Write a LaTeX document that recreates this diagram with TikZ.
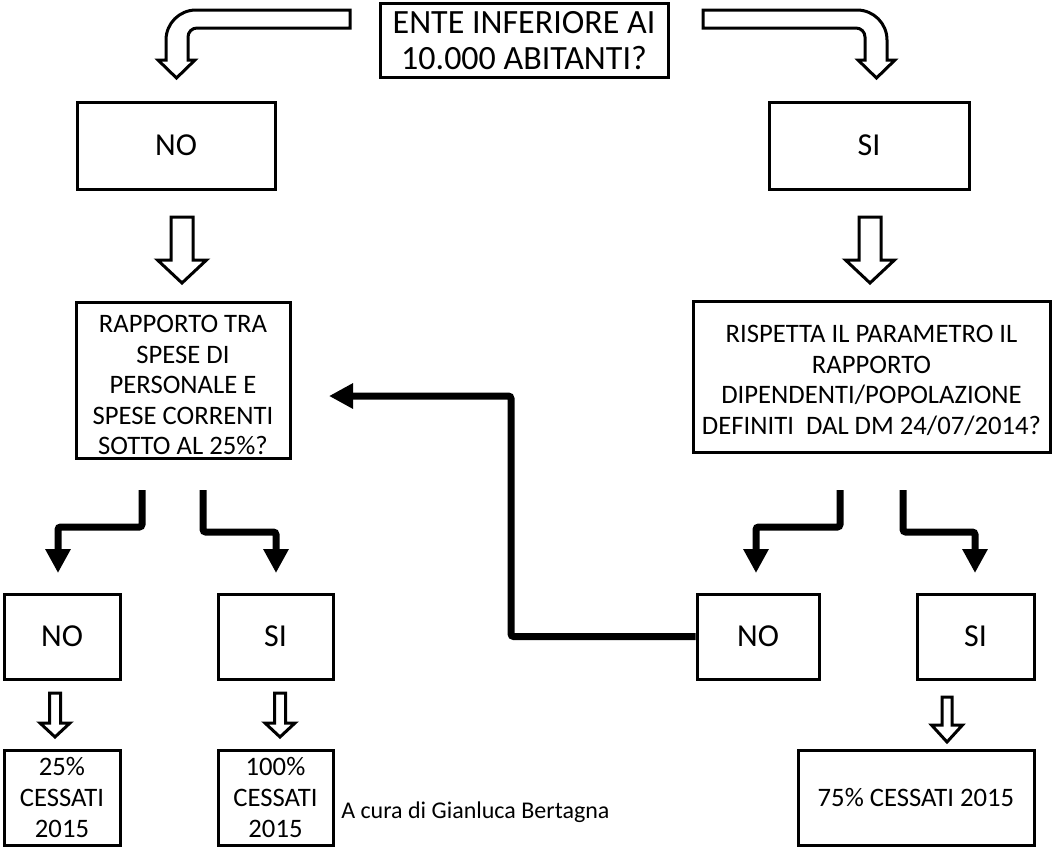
\documentclass[tikz,border=0pt]{standalone}
\usepackage{fontspec}
\setmainfont{Carlito}
\usetikzlibrary{arrows.meta}

% hollow down arrow: centre x, shaft top, head start, tip, shaft half width, head half width
\newcommand\hollowdown[6]{%
  \draw[hollow] ({#1-#5},#2) -- ({#1+#5},#2) -- ({#1+#5},#3) -- ({#1+#6},#3)
    -- (#1,#4) -- ({#1-#6},#3) -- ({#1-#5},#3) -- cycle;}

\begin{document}
\begin{tikzpicture}[x=0.75pt, y=-0.75pt,
  box/.style={draw, line width=2.25pt, align=center, inner sep=0pt,
    font=\fontsize{20}{22.9}\selectfont},
  boxtext/.style={align=center, inner sep=0pt, font=\fontsize{20}{22.9}\selectfont},
  answer/.style={box, font=\fontsize{24}{28}\selectfont},
  hollow/.style={draw, fill=white, line width=2.25pt, line join=miter},
  thickarrow/.style={line width=5.25pt, rounded corners=2pt,
    -{Triangle[width=18pt,length=18pt]}}]
\useasboundingbox (0,0) rectangle (1060,847);
\fill[white] (0,0) rectangle (1060,847);

% question at the top
\node[box, minimum width=216pt, minimum height=55.5pt,
  font=\fontsize{25.5}{26.6}\selectfont] (top) at (524,40.5)
  {ENTE INFERIORE AI\\10.000 ABITANTI?};

% first answers
\node[answer, minimum width=148.5pt, minimum height=65.25pt] (no1) at (176,145.5) {NO};
\node[answer, minimum width=150pt, minimum height=65.25pt] (si1) at (869,145.5) {SI};

% second questions (text sits a little below the middle of the box)
\node[box, minimum width=160.5pt, minimum height=117pt,
  label={[boxtext, yshift=-3.75pt]center:RAPPORTO TRA\\SPESE DI\\PERSONALE E\\SPESE CORRENTI\\SOTTO AL 25\%?}]
  (q1) at (183,380) {};
\node[box, minimum width=267.75pt, minimum height=113.25pt,
  label={[boxtext, yshift=-3pt]center:RISPETTA IL PARAMETRO IL\\RAPPORTO\\DIPENDENTI/POPOLAZIONE\\DEFINITI\ \ DAL DM 24/07/2014?}]
  (q2) at (871.5,376.5) {};

% second answers
\node[answer, minimum width=87pt, minimum height=63.75pt] (no2) at (62,636.5) {NO};
\node[answer, minimum width=86.25pt, minimum height=63.75pt] (si2) at (275.5,636.5) {SI};
\node[answer, minimum width=91.5pt, minimum height=63.75pt] (no3) at (758,636.5) {NO};
\node[answer, minimum width=87.75pt, minimum height=63.75pt] (si3) at (975.5,636.5) {SI};

% results
\node[box, minimum width=87pt, minimum height=71.25pt] (r1) at (62,797.5) {25\%\\CESSATI\\2015};
\node[box, minimum width=86.25pt, minimum height=71.25pt] (r2) at (275.5,797.5) {100\%\\CESSATI\\2015};
\node[box, minimum width=177pt, minimum height=71.25pt] (r3) at (916,797.5) {75\% CESSATI 2015};

\node[anchor=west, inner sep=0pt, font=\fontsize{18}{21}\selectfont] (credit) at (341,812)
  {A cura di Gianluca Bertagna};

% bent hollow arrows from the top question
\draw[hollow] (703,10) -- (857,10) .. controls (873.6,10) and (887,23.4) .. (887,40)
  -- (887,60) -- (895,60) -- (876.5,78) -- (858,60) -- (865,60) -- (865,37)
  .. controls (865,32) and (861,28) .. (856,28) -- (703,28) -- cycle;
\draw[hollow] (350,10) -- (196,10) .. controls (179.4,10) and (166,23.4) .. (166,40)
  -- (166,60) -- (158,60) -- (176.5,78) -- (195,60) -- (188,60) -- (188,37)
  .. controls (188,32) and (192,28) .. (197,28) -- (350,28) -- cycle;

% straight hollow arrows
\hollowdown{182}{217}{260}{283}{11}{24.5}
\hollowdown{870}{217}{260}{283}{11}{24.5}
\hollowdown{55}{693}{723}{737}{5.5}{15}
\hollowdown{280}{693}{723}{737}{5.5}{15}
\hollowdown{947}{697}{725}{742}{5}{15.5}

% thick bent arrows
\coordinate (aS) at (142,490); \coordinate (aM) at (58,527);  \coordinate (aT) at (58,573);
\coordinate (bS) at (203,490); \coordinate (bM) at (276,532); \coordinate (bT) at (276,573);
\coordinate (cS) at (840,490); \coordinate (cM) at (756,527); \coordinate (cT) at (756,573);
\coordinate (dS) at (903,490); \coordinate (dM) at (975,532); \coordinate (dT) at (975,573);
\coordinate (eM) at (511,396); \coordinate (eT) at (329,396);
\draw[thickarrow] (aS) |- (aM) -- (aT);
\draw[thickarrow] (bS) |- (bM) -- (bT);
\draw[thickarrow] (cS) |- (cM) -- (cT);
\draw[thickarrow] (dS) |- (dM) -- (dT);
\draw[thickarrow] (no3.west) -| (eM) -- (eT);
\end{tikzpicture}
\end{document}
